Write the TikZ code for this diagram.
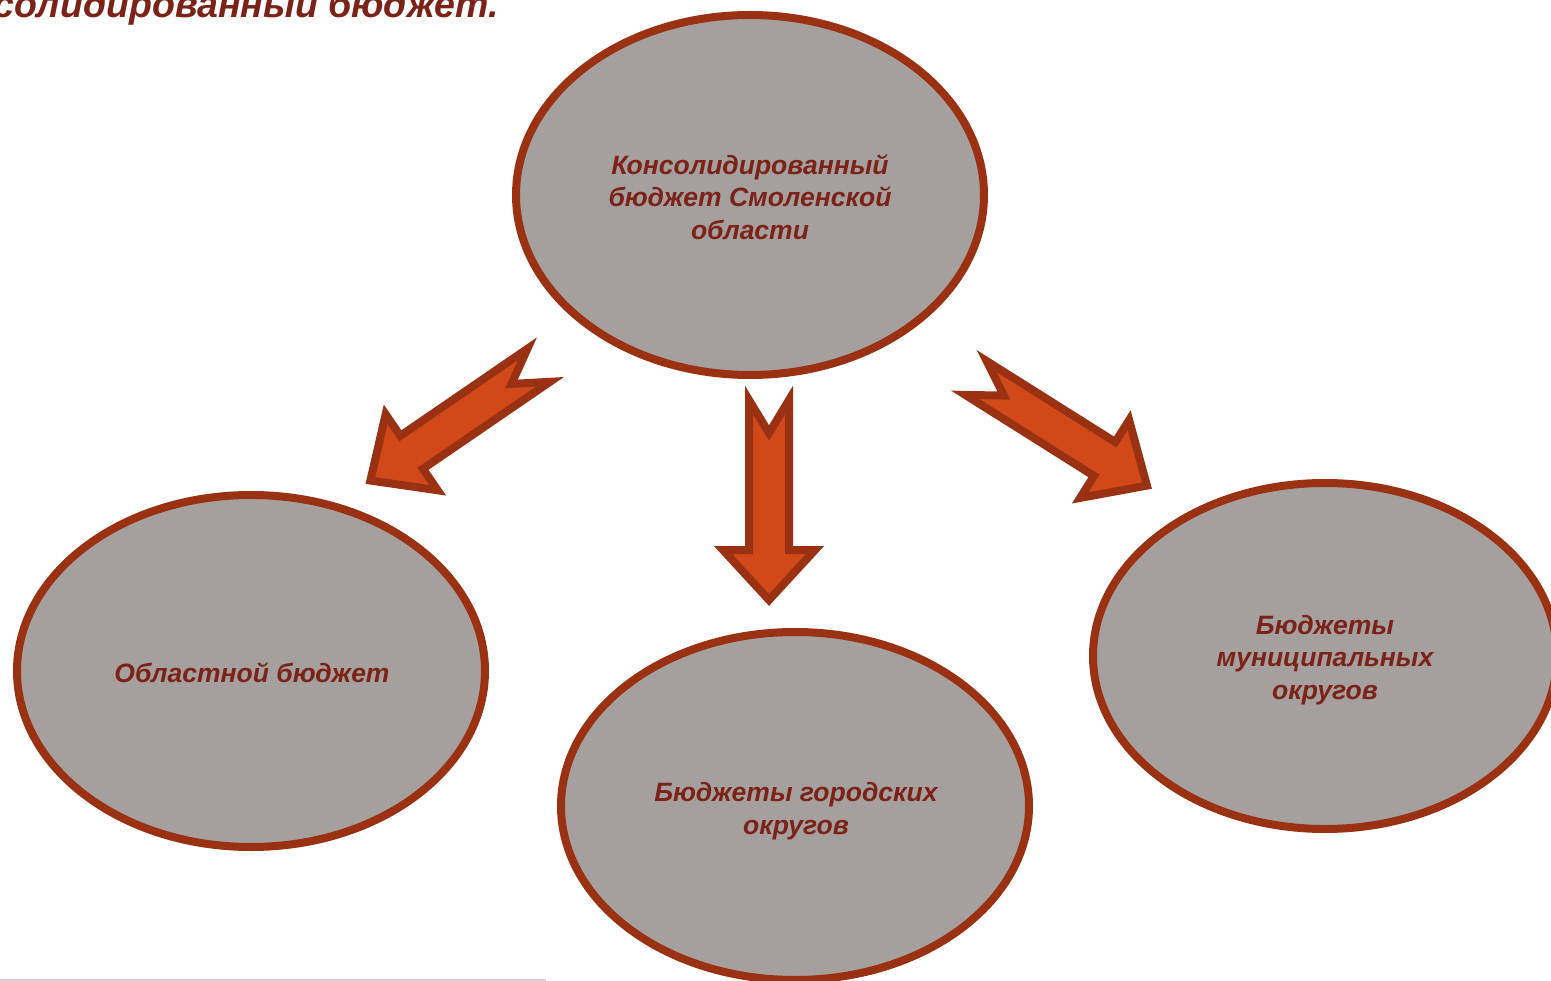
\documentclass[tikz,border=0pt]{standalone}
\usepackage{fontspec}
\setmainfont{Liberation Sans}
\usetikzlibrary{shapes.geometric}
\definecolor{ellfill}{HTML}{A5A09E}
\definecolor{ellborder}{HTML}{9A3112}
\definecolor{arrfill}{HTML}{D14918}
\definecolor{arrborder}{HTML}{9A3112}
\definecolor{txt}{HTML}{7B2219}
\definecolor{rule}{HTML}{D8CFD2}
\newcommand{\blockarr}[4]{%
  \draw[blockarrow, shift={(#1,#2)}, rotate=#3]
    (0,-20) -- (#4-50,-20) -- (#4-50,-46) -- (#4,0) -- (#4-50,46) -- (#4-50,20) -- (0,20) -- (33,0) -- cycle;}
\begin{document}
\begin{tikzpicture}[x=1pt,y=-1pt,
  budget/.style={ellipse, draw=ellborder, fill=ellfill, line width=8pt, inner sep=0pt,
    minimum width=468pt, minimum height=352pt},
  budgettext/.style={text=txt, align=center, inner sep=0pt,
    font=\fontsize{26.5}{32.5}\selectfont\bfseries\itshape},
  blockarrow/.style={draw=arrborder, fill=arrfill, line width=8pt, line join=miter},
  headline/.style={text=txt, font=\fontsize{37.5}{44}\selectfont\bfseries\itshape, inner sep=0pt, anchor=base west}]
\useasboundingbox (0,0) rectangle (1551,981);
\clip (0,0) rectangle (1551,981);
\node[headline] (head) at (-7,18) {солидированный бюджет.};
\node[budget, minimum height=360pt] (top) at (750,195) {};
\node[budget] (left) at (251,671) {};
\node[budget, minimum height=348pt] (bottom) at (795,806) {};
\node[budget, minimum width=464pt, minimum height=346pt] (right) at (1325,656) {};
\node[budgettext] (toptext) at (750,197) {Консолидированный\\бюджет Смоленской\\области};
\node[budgettext] (lefttext) at (252,673) {Областной бюджет};
\node[budgettext] (bottomtext) at (796,811) {Бюджеты городских\\округов};
\node[budgettext] (righttext) at (1325,660) {Бюджеты\\муниципальных\\округов};
\blockarr{538.7}{365.3}{214.4}{204}
\blockarr{769}{400}{-90}{200}
\blockarr{976}{378}{-32.2}{202}
\coordinate (r1) at (0,979.5);
\coordinate (r2) at (546,979.5);
\draw[rule, line width=2pt] (r1) -- (r2);
\end{tikzpicture}
\end{document}
